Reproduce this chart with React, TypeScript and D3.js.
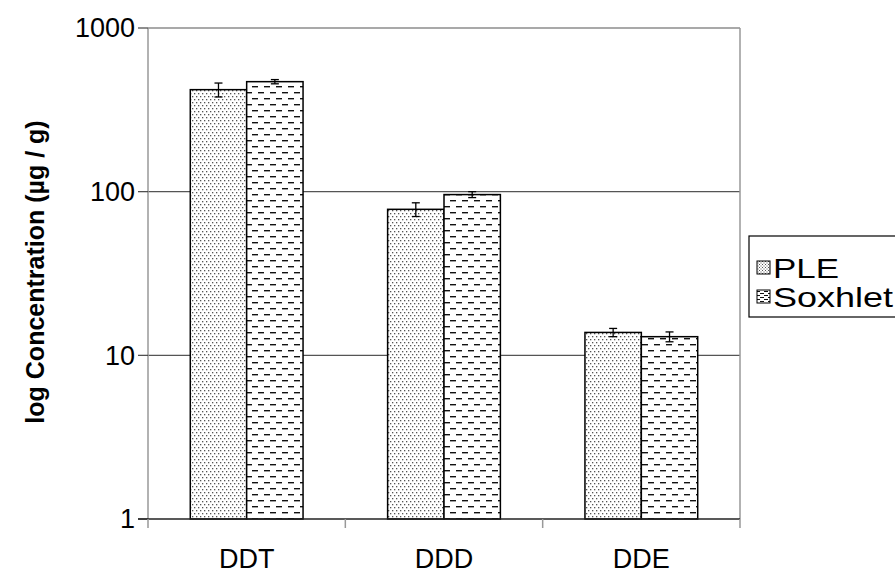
import React from "react";
import * as d3 from "d3";

const categories = ["DDT", "DDD", "DDE"];
const seriesNames = ["PLE", "Soxhlet"];
const pleValues = [420, 78, 13.8];
const pleErrors = [41, 7.5, 0.8];
const soxValues = [470, 96, 13.0];
const soxErrors = [14, 4, 0.9];
const yTicks = [1, 10, 100, 1000];

const W = 895;
const H = 578;
const L = 148, R = 740, T = 28, B = 519;
const FONT = "Liberation Sans, Arial, sans-serif";

export default function App() {
  const y = d3.scaleLog().domain([1, 1000]).range([B, T]);
  const x0 = d3.scaleBand().domain(categories).range([L, R]).paddingInner(0).paddingOuter(0);
  const x1 = d3.scaleBand().domain(seriesNames).range([0, x0.bandwidth()]).paddingInner(0).paddingOuter(0.75);
  const series = [
    { name: "PLE", values: pleValues, errors: pleErrors, fill: "url(#dots)", legendFill: "url(#dotsSmall)", legendLen: 66 },
    { name: "Soxhlet", values: soxValues, errors: soxErrors, fill: "url(#dashes)", legendFill: "url(#dashesSmall)", legendLen: 120 },
  ];
  const catTicks = [...categories.map((c) => x0(c) as number), R];

  return (
    <svg width={W} height={H} style={{ position: "absolute", left: 0, top: 0 }}>
      <defs>
        <pattern id="dots" width={4} height={6} patternUnits="userSpaceOnUse">
          <rect width={4} height={6} fill="#fff" />
          <rect x={0} y={0} width={1.3} height={1.3} fill="#555" />
          <rect x={2} y={3} width={1.3} height={1.3} fill="#555" />
        </pattern>
        <pattern id="dashes" width={12} height={12} patternUnits="userSpaceOnUse">
          <rect width={12} height={12} fill="#fff" />
          <rect x={0} y={2} width={6} height={1.4} fill="#111" />
          <rect x={6} y={8} width={6} height={1.4} fill="#111" />
        </pattern>
        <pattern id="dotsSmall" width={3} height={3} patternUnits="userSpaceOnUse">
          <rect width={3} height={3} fill="#fff" />
          <rect x={0} y={0} width={1} height={1} fill="#555" />
          <rect x={1.5} y={1.5} width={1} height={1} fill="#555" />
        </pattern>
        <pattern id="dashesSmall" width={8} height={4} patternUnits="userSpaceOnUse">
          <rect width={8} height={4} fill="#fff" />
          <rect x={0} y={1} width={4} height={1} fill="#111" />
          <rect x={4} y={3} width={4} height={1} fill="#111" />
        </pattern>
      </defs>
      <rect width={W} height={H} fill="#fff" />
      {/* gridlines */}
      {yTicks.filter((t) => t > 1).map((t) => (
        <line key={t} x1={L} x2={R} y1={y(t)} y2={y(t)} stroke="#555" strokeWidth={1.2} />
      ))}
      {/* left / right borders */}
      <line x1={L} x2={L} y1={T} y2={B} stroke="#999" strokeWidth={1.5} />
      <line x1={R} x2={R} y1={T} y2={B} stroke="#999" strokeWidth={1.5} />
      {/* y ticks */}
      {yTicks.map((t) => (
        <g key={t}>
          <line x1={L - 10} x2={L} y1={y(t)} y2={y(t)} stroke="#444" strokeWidth={1.2} />
          <text x={135} y={y(t)} dy="0.35em" textAnchor="end" fontFamily={FONT} fontSize={27} fill="#000">
            {t}
          </text>
        </g>
      ))}
      {/* bars */}
      {categories.map((c, i) => (
        <g key={c}>
          {series.map((s) => {
            const bx = (x0(c) as number) + (x1(s.name) as number);
            const bw = x1.bandwidth();
            const v = s.values[i];
            const e = s.errors[i];
            const cx = bx + bw / 2;
            return (
              <g key={s.name}>
                <rect x={bx} y={y(v)} width={bw} height={B - y(v)} fill={s.fill} stroke="#000" strokeWidth={1.5} />
                <line x1={cx} x2={cx} y1={y(v + e)} y2={y(v - e)} stroke="#000" strokeWidth={1.3} />
                <line x1={cx - 4} x2={cx + 4} y1={y(v + e)} y2={y(v + e)} stroke="#000" strokeWidth={1.3} />
                <line x1={cx - 4} x2={cx + 4} y1={y(v - e)} y2={y(v - e)} stroke="#000" strokeWidth={1.3} />
              </g>
            );
          })}
        </g>
      ))}
      {/* x axis */}
      <line x1={L - 10} x2={R} y1={B} y2={B} stroke="#222" strokeWidth={1.5} />
      {catTicks.map((t, i) => (
        <line key={i} x1={t} x2={t} y1={B} y2={B + 9} stroke="#999" strokeWidth={1.5} />
      ))}
      {categories.map((c) => (
        <text key={c} x={(x0(c) as number) + x0.bandwidth() / 2} y={568} textAnchor="middle" fontFamily={FONT} fontSize={27} fill="#000">
          {c}
        </text>
      ))}
      {/* y title */}
      <text
        transform={`translate(44, 272) rotate(-90)`}
        textAnchor="middle"
        fontFamily={FONT}
        fontWeight="bold"
        fontSize={25}
        fill="#000"
      >
        log Concentration (µg / g)
      </text>
      {/* legend */}
      <rect x={749} y={236} width={160} height={81} fill="#fff" stroke="#000" strokeWidth={1.2} />
      {series.map((s, i) => (
        <g key={s.name}>
          <rect x={757} y={261 + i * 29} width={13} height={13} fill={s.legendFill} stroke="#000" strokeWidth={1} />
          <text
            x={773}
            y={278 + i * 29}
            fontFamily={FONT}
            fontSize={28}
            textLength={s.legendLen}
            lengthAdjust="spacingAndGlyphs"
            fill="#000"
          >
            {s.name}
          </text>
        </g>
      ))}
    </svg>
  );
}
